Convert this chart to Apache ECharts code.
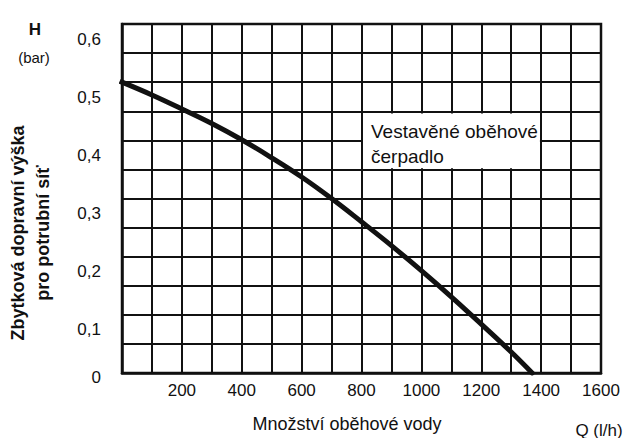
<!DOCTYPE html>
<html>
<head>
<meta charset="utf-8">
<script src="https://cdn.jsdelivr.net/npm/echarts@6/dist/echarts.min.js"></script>
<style>
html,body{margin:0;padding:0;background:#fff;}
#chart{width:626px;height:438px;}
</style>
</head>
<body>
<div id="chart"></div>
<script>
// Flow rate Q (l/h)
const qValues = [0, 100, 200, 300, 400, 500, 600, 700, 800, 900, 1000, 1100, 1200, 1300, 1370];
// Residual head H (bar)
const hValues = [0.500, 0.478, 0.454, 0.429, 0.401, 0.370, 0.337, 0.300, 0.260, 0.219, 0.176, 0.131, 0.084, 0.036, 0.000];
const xTickLabels = ['200', '400', '600', '800', '1000', '1200', '1400', '1600'];
const yTickLabels = ['0', '0,1', '0,2', '0,3', '0,4', '0,5', '0,6'];
const curveLabel = 'Vestavěné oběhové\nčerpadlo';
const boxRange = [[805, 0.446], [1396, 0.352]];

const FONT = "'Liberation Sans', Arial, Helvetica, sans-serif";
const INK = '#111';

const chart = echarts.init(document.getElementById('chart'), null, {renderer: 'svg'});

function txt(x, y, text, size, weight, rot, lh) {
  return {
    type: 'text', x: x, y: y, rotation: rot || 0,
    style: {
      text: text, fill: INK,
      font: (weight || 'normal') + ' ' + size + 'px ' + FONT,
      fontSize: size, fontWeight: weight || 'normal', fontFamily: FONT,
      textAlign: 'center', textVerticalAlign: 'middle',
      align: 'center', verticalAlign: 'middle',
      lineHeight: lh || size
    }
  };
}

chart.setOption({
  animation: false,
  backgroundColor: '#fff',
  grid: {left: 122, right: 25, top: 13, bottom: 65, show: true, borderColor: INK, borderWidth: 2.5, backgroundColor: 'transparent'},
  xAxis: {
    type: 'value', min: 0, max: 1600, interval: 100,
    axisLine: {show: true, lineStyle: {color: INK, width: 2.5}},
    axisTick: {show: false},
    splitLine: {show: true, lineStyle: {color: INK, width: 2}},
    axisLabel: {
      margin: 9, color: INK, fontSize: 17, fontFamily: FONT,
      formatter: function (v) {
        const s = String(Math.round(v));
        return xTickLabels.indexOf(s) >= 0 ? s : '';
      }
    }
  },
  yAxis: {
    type: 'value', min: 0, max: 0.6, interval: 0.05,
    axisLine: {show: true, lineStyle: {color: INK, width: 2.5}},
    axisTick: {show: false},
    splitLine: {show: true, lineStyle: {color: INK, width: 2}},
    axisLabel: {
      margin: 21, color: INK, fontSize: 17, fontFamily: FONT,
      formatter: function (v) {
        const k = Math.round(v * 20);
        if (k % 2 !== 0) return '';
        const lab = yTickLabels[k / 2];
        return (k === 0 ? '{g0| }' : '{g| }') + '\n{v|' + lab + '}';
      },
      rich: {
        g: {height: 30, lineHeight: 30, fontSize: 10},
        g0: {height: 8, lineHeight: 8, fontSize: 8},
        v: {fontSize: 17, lineHeight: 18, color: INK, fontFamily: FONT}
      }
    }
  },
  series: [{
    type: 'line',
    data: qValues.map((q, i) => [q, hValues[i]]),
    smooth: 0.4,
    symbol: 'none',
    lineStyle: {color: '#111', width: 5, cap: 'square'},
    markArea: {
      silent: true,
      itemStyle: {color: '#fff', borderWidth: 0},
      label: {
        show: true, position: 'insideTopLeft', distance: 5, offset: [3, 0],
        color: INK, fontSize: 19, lineHeight: 25, fontFamily: FONT,
        formatter: curveLabel
      },
      data: [[{xAxis: boxRange[0][0], yAxis: boxRange[0][1]}, {xAxis: boxRange[1][0], yAxis: boxRange[1][1]}]]
    }
  }],
  graphic: [
    txt(35, 29, 'H', 17, 'bold'),
    txt(34, 57, '(bar)', 15, 'normal'),
    txt(30, 233, 'Zbytková dopravní výška\npro potrubní síť', 18, 'bold', Math.PI / 2, 25),
    txt(347, 424, 'Množství oběhové vody', 18, 'normal'),
    txt(599, 430, 'Q (l/h)', 17, 'normal')
  ]
});
</script>
</body>
</html>
